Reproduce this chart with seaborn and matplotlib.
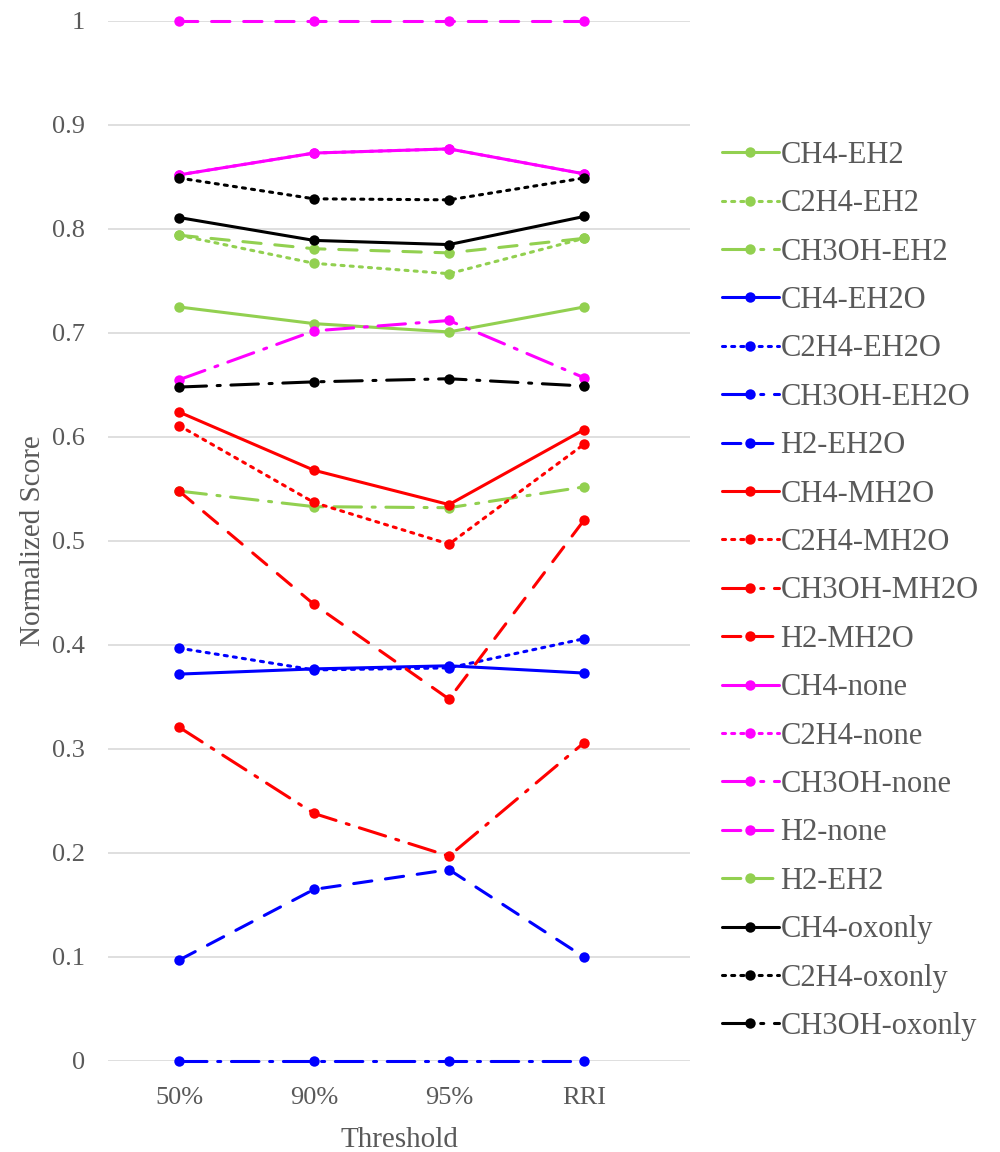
import numpy as np
import pandas as pd
import matplotlib
matplotlib.use("Agg")
import matplotlib.pyplot as plt
from matplotlib.ticker import FuncFormatter
import seaborn as sns

# categories on the x axis
thresholds = ["50%", "90%", "95%", "RRI"]

# series names, in legend order
series_names = [
    "CH4-EH2", "C2H4-EH2", "CH3OH-EH2",
    "CH4-EH2O", "C2H4-EH2O", "CH3OH-EH2O", "H2-EH2O",
    "CH4-MH2O", "C2H4-MH2O", "CH3OH-MH2O", "H2-MH2O",
    "CH4-none", "C2H4-none", "CH3OH-none", "H2-none",
    "H2-EH2",
    "CH4-oxonly", "C2H4-oxonly", "CH3OH-oxonly",
]

# values
ch4_eh2 = [0.725, 0.709, 0.701, 0.725]
c2h4_eh2 = [0.794, 0.767, 0.757, 0.791]
ch3oh_eh2 = [0.548, 0.533, 0.532, 0.552]
ch4_eh2o = [0.372, 0.377, 0.380, 0.373]
c2h4_eh2o = [0.397, 0.376, 0.378, 0.406]
ch3oh_eh2o = [0.0, 0.0, 0.0, 0.0]
h2_eh2o = [0.097, 0.165, 0.184, 0.100]
ch4_mh2o = [0.624, 0.568, 0.535, 0.607]
c2h4_mh2o = [0.611, 0.537, 0.497, 0.593]
ch3oh_mh2o = [0.321, 0.238, 0.197, 0.306]
h2_mh2o = [0.548, 0.439, 0.348, 0.520]
ch4_none = [0.852, 0.873, 0.877, 0.853]
c2h4_none = [0.852, 0.873, 0.877, 0.853]
ch3oh_none = [0.655, 0.702, 0.712, 0.657]
h2_none = [1.0, 1.0, 1.0, 1.0]
h2_eh2 = [0.794, 0.781, 0.777, 0.791]
ch4_oxonly = [0.811, 0.789, 0.785, 0.812]
c2h4_oxonly = [0.849, 0.829, 0.828, 0.849]
ch3oh_oxonly = [0.648, 0.653, 0.656, 0.649]

all_values = [
    ch4_eh2, c2h4_eh2, ch3oh_eh2,
    ch4_eh2o, c2h4_eh2o, ch3oh_eh2o, h2_eh2o,
    ch4_mh2o, c2h4_mh2o, ch3oh_mh2o, h2_mh2o,
    ch4_none, c2h4_none, ch3oh_none, h2_none,
    h2_eh2,
    ch4_oxonly, c2h4_oxonly, ch3oh_oxonly,
]

GREEN = "#92d050"
BLUE = "#0000ff"
RED = "#ff0000"
MAGENTA = "#ff00ff"
BLACK = "#000000"

SOLID = ""
DOT = (1, 2)
DASHDOT = (9, 3.5, 1, 3.5)
DASH = (6, 4.5)

colors = [GREEN] * 3 + [BLUE] * 4 + [RED] * 4 + [MAGENTA] * 4 + [GREEN] + [BLACK] * 3
styles = [SOLID, DOT, DASHDOT,
          SOLID, DOT, DASHDOT, DASH,
          SOLID, DOT, DASHDOT, DASH,
          SOLID, DOT, DASHDOT, DASH,
          DASH,
          SOLID, DOT, DASHDOT]

rows = []
for name, vals in zip(series_names, all_values):
    for i, v in enumerate(vals):
        rows.append({"series": name, "x": i, "score": v})
df = pd.DataFrame(rows)

sns.set_style("white")
plt.rcParams["font.family"] = ["Liberation Serif", "DejaVu Serif"]
TEXT = "#595959"

fig = plt.figure(figsize=(10, 11.52), dpi=100)
ax = fig.add_axes([0.108, 0.079, 0.582, 0.9028])

sns.lineplot(
    data=df, x="x", y="score", hue="series", style="series",
    hue_order=series_names, style_order=series_names,
    palette=dict(zip(series_names, colors)),
    dashes=dict(zip(series_names, styles)),
    markers={n: "o" for n in series_names},
    markersize=7.5, markeredgewidth=0, linewidth=2.2,
    sort=False, legend=False, ax=ax,
)

for ln in ax.lines:
    ln.set_clip_on(False)
    ln.set_dash_capstyle("round")
    ln.set_solid_capstyle("round")

ax.set_xlim(-0.526, 3.785)
ax.set_ylim(0, 1)
ax.set_xticks(range(len(thresholds)))
ax.set_xticklabels(thresholds)
ax.set_yticks(np.arange(0, 1.01, 0.1))
ax.yaxis.set_major_formatter(FuncFormatter(lambda v, p: f"{v:g}"))
ax.grid(axis="y", color="#d9d9d9", linewidth=1.2)
ax.grid(axis="x", visible=False)
ax.set_axisbelow(True)
for s in ax.spines.values():
    s.set_visible(False)
ax.tick_params(axis="both", length=0, labelsize=19, colors=TEXT)
ax.tick_params(axis="y", pad=16.5)
ax.tick_params(axis="x", pad=18.5)

ax.set_xlabel("Threshold", fontsize=21, color=TEXT, labelpad=13)
ax.set_ylabel("Normalized Score", fontsize=21, color=TEXT, labelpad=4.5)

handles = ax.lines[:len(series_names)]
leg = fig.legend(
    handles, series_names, loc="center left", bbox_to_anchor=(0.71, 0.487),
    frameon=False, fontsize=22, labelspacing=0.635, handlelength=1.85,
    handletextpad=0.05, numpoints=1, borderaxespad=0,
)
for t in leg.get_texts():
    t.set_color(TEXT)

fig.savefig("out.png", dpi=100)
